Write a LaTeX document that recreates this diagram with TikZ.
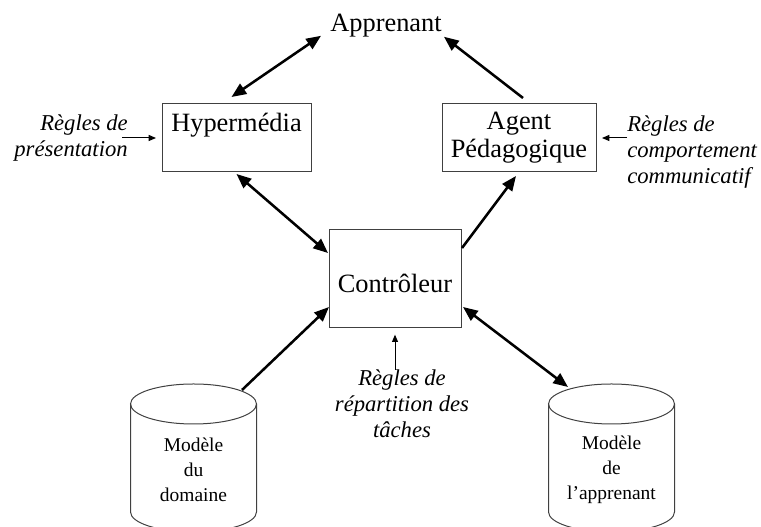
\documentclass[tikz,border=0pt]{standalone}
\usepackage{fontspec}
\setmainfont{Liberation Serif}
\usetikzlibrary{arrows.meta}

\tikzset{
  box/.style={draw=black!75, line width=0.75pt, inner xsep=0pt, outer sep=0pt,
    font=\fontsize{19.8}{21}\selectfont},
  cylnode/.style={inner sep=0pt, outer sep=0pt, minimum width=94.5pt, minimum height=129pt,
    align=center, font=\fontsize{14.6}{18.75}\selectfont},
  rules/.style={inner sep=0pt, font=\fontsize{17}{19.5}\selectfont\itshape},
  cylline/.style={black!75, line width=0.75pt},
  big arrow/.style={line width=1.9pt, -{Triangle[length=11pt,width=9pt]}},
  big both/.style={line width=1.9pt, {Triangle[length=11pt,width=9pt]}-{Triangle[length=11pt,width=9pt]}},
  small arrow/.style={line width=0.75pt, -{Triangle[length=5.5pt,width=4.5pt]}}
}

\begin{document}
\begin{tikzpicture}[x=0.75pt,y=0.75pt]
    \useasboundingbox (0,0) rectangle (761,527);
    \clip (0,0) rectangle (761,527);
    % Draw modules
    \node[inner sep=0pt, font=\fontsize{19.8}{21}\selectfont] (appr) at (386,501) {Apprenant};
    \node[box, minimum width=111.75pt, minimum height=51pt, inner ysep=0pt,
      text height=20.8pt, text depth=30.2pt] (hyper) at (236.5,389) {Hypermédia};
    \node[box, minimum width=115.5pt, minimum height=51pt, align=center] (agent) at (519,389) {Agent\\Pédagogique};
    \node[box, minimum width=99pt, minimum height=73.5pt, inner ysep=0pt,
      text height=47pt, text depth=26.5pt] (ctrl) at (395,248) {Contrôleur};
    % Draw models
    \node[cylnode] (dom) at (193.5,57) {Modèle\\du\\domaine};
    \node[cylnode] (appmod) at (611.5,57) {Modèle\\de\\l’apprenant};
    \foreach \cyl in {dom,appmod}{
      \draw[cylline] (\cyl.north west) ++(0,-20) -- ++(0,-108)
        arc[start angle=180, end angle=360, x radius=63, y radius=20] -- ++(0,108);
      \draw[cylline] (\cyl.north) ++(0,-20) ellipse[x radius=63, y radius=20];
    }
    % Label rules
    \node[rules, anchor=east, align=right] (regpres) at (128,389) {Règles de\\présentation};
    \node[rules, anchor=west, align=left] (regcomp) at (627,375) {Règles de\\comportement\\communicatif};
    \node[rules, align=center] (regrep) at (402,123) {Règles de\\répartition des\\tâches};
    % Draw links
    \draw[big both] ([shift={(-5,7)}]hyper.north) -- ([shift={(-9,2)}]appr.south west);
    \draw[big arrow] ([shift={(4,6)}]agent.north) -- ([shift={(2,1)}]appr.south east);
    \draw[big both] ([shift={(0,-2)}]hyper.south) -- ([shift={(-1,26)}]ctrl.west);
    \draw[big arrow] ([shift={(1,31)}]ctrl.east) -- ([shift={(-3,-4)}]agent.south);
    \draw[big arrow] ([shift={(48.5,-6)}]dom.north) -- ([shift={(0,-28)}]ctrl.west);
    \draw[big both] ([shift={(2,-28)}]ctrl.east) -- ([shift={(-43.5,-3)}]appmod.north);
    \draw[small arrow, shorten <=-4.5pt, shorten >=4.5pt] (regpres.east |- hyper.west) -- (hyper.west);
    \draw[small arrow, shorten >=4.5pt] (regcomp.west |- agent.east) -- (agent.east);
    \draw[small arrow, shorten >=5pt] (regrep.north -| ctrl.south) -- (ctrl.south);
\end{tikzpicture}
\end{document}
